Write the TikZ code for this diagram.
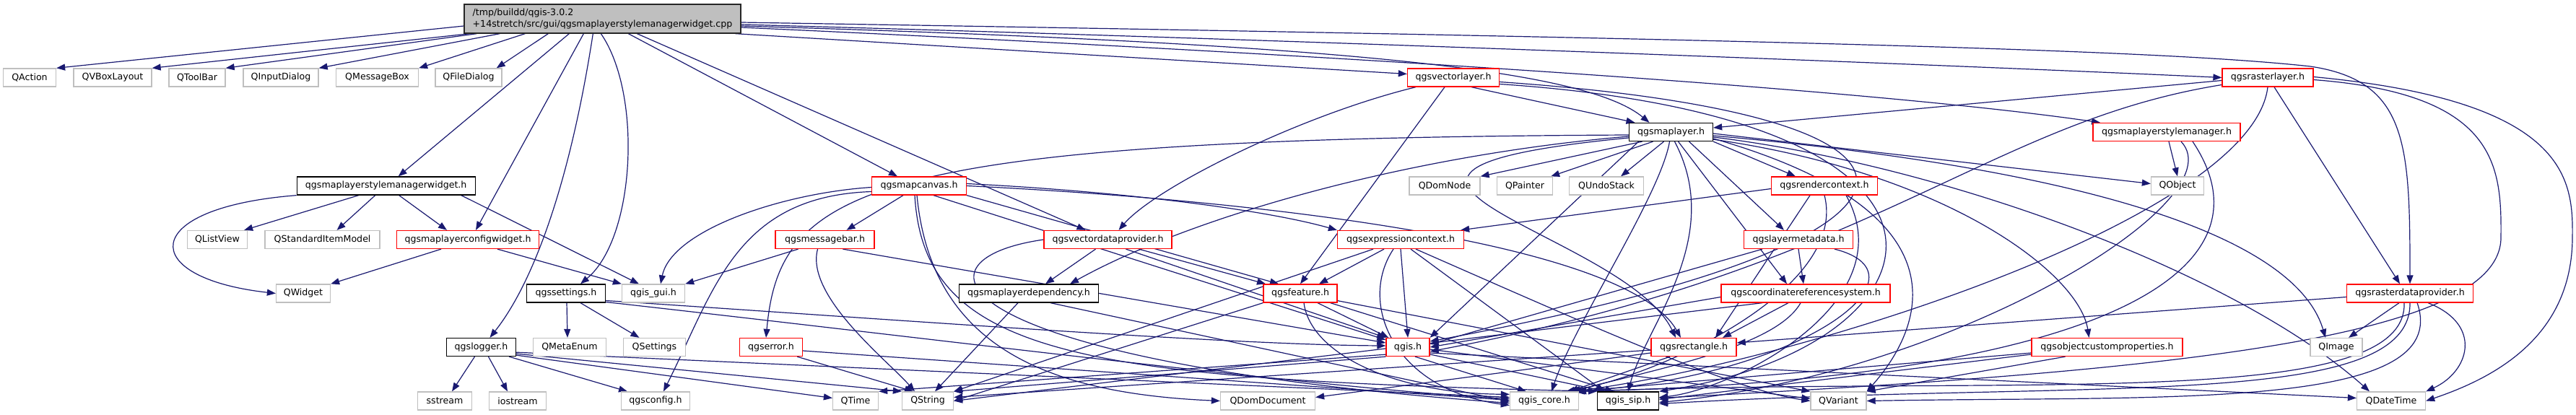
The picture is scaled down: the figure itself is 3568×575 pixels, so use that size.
\documentclass[tikz,border=0pt]{standalone}
\usepackage{fontspec}
\setmainfont{DejaVu Sans}
\usetikzlibrary{arrows.meta}
\definecolor{edgec}{HTML}{191970}
\definecolor{redb}{HTML}{FF0000}
\definecolor{greyb}{HTML}{BFBFBF}
\definecolor{rootf}{HTML}{BFBFBF}
\pgfdeclarelayer{edgelayer}
\pgfsetlayers{edgelayer,main}
\tikzset{
 box/.style={rectangle, draw, fill=white, line width=1.3pt, minimum height=25pt, inner sep=0pt, font=\fontsize{12.6}{16}\selectfont},
 gbox/.style={box, draw=greyb},
 rbox/.style={box, draw=redb},
 kbox/.style={box, draw=black},
 rootbox/.style={box, draw=black!85, fill=rootf, minimum height=40pt, align=left},
 e/.style={draw=edgec, line width=1.2pt, -{Triangle[length=12pt,width=9pt]}},
}
\begin{document}
\begin{tikzpicture}[x=1pt,y=1pt]
\useasboundingbox (0,0) rectangle (3568,-575);
% row 0
\node[rootbox, minimum width=383pt] (root) at (834.5,-26) {/tmp/buildd/qgis-3.0.2\\+14stretch/src/gui/qgsmaplayerstylemanagerwidget.cpp};
% row 1
\node[gbox, minimum width=73pt] (qaction) at (41,-107.5) {QAction};
\node[gbox, minimum width=108pt] (qvbox) at (156,-107.5) {QVBoxLayout};
\node[gbox, minimum width=78pt] (qtoolbar) at (273,-107.5) {QToolBar};
\node[gbox, minimum width=104pt] (qinput) at (389,-107.5) {QInputDialog};
\node[gbox, minimum width=114pt] (qmsgbox) at (522.5,-107.5) {QMessageBox};
\node[gbox, minimum width=92pt] (qfile) at (649,-107.5) {QFileDialog};
\node[rbox, minimum width=127pt] (vlayer) at (2013,-107.5) {qgsvectorlayer.h};
\node[rbox, minimum width=126pt] (rlayer) at (3141,-107.5) {qgsrasterlayer.h};
% row 2
\node[kbox, minimum width=116pt] (maplayer) at (2314.5,-183) {qgsmaplayer.h};
\node[rbox, minimum width=204pt] (stylemgr) at (3001,-183) {qgsmaplayerstylemanager.h};
% row 3
\node[kbox, minimum width=247pt] (smw) at (534.7,-257.5) {qgsmaplayerstylemanagerwidget.h};
\node[rbox, minimum width=131pt] (canvas) at (1273,-257.5) {qgsmapcanvas.h};
\node[gbox, minimum width=98pt] (qdomnode) at (2001,-257.5) {QDomNode};
\node[gbox, minimum width=77pt] (qpainter) at (2112,-257.5) {QPainter};
\node[gbox, minimum width=103pt] (qundo) at (2225,-257.5) {QUndoStack};
\node[rbox, minimum width=147pt] (rctx) at (2527,-257.5) {qgsrendercontext.h};
\node[gbox, minimum width=73pt] (qobject) at (3016,-257.5) {QObject};
% row 4
\node[gbox, minimum width=83pt] (qlistview) at (301,-332) {QListView};
\node[gbox, minimum width=159pt] (qsim) at (446.6,-332) {QStandardItemModel};
\node[rbox, minimum width=197pt] (mlcw) at (648,-332) {qgsmaplayerconfigwidget.h};
\node[rbox, minimum width=137pt] (msgbar) at (1142.5,-332) {qgsmessagebar.h};
\node[rbox, minimum width=177pt] (vdp) at (1534.5,-332) {qgsvectordataprovider.h};
\node[rbox, minimum width=175pt] (ectx) at (1940,-332) {qgsexpressioncontext.h};
\node[rbox, minimum width=151pt] (lmeta) at (2491,-332) {qgslayermetadata.h};
% row 5
\node[gbox, minimum width=75pt] (qwidget) at (420,-406.5) {QWidget};
\node[kbox, minimum width=109pt] (settings) at (784,-406.5) {qgssettings.h};
\node[gbox, minimum width=87pt] (qgisgui) at (905,-406.5) {qgis\_gui.h};
\node[kbox, minimum width=193pt] (mldep) at (1425,-406.5) {qgsmaplayerdependency.h};
\node[rbox, minimum width=102pt] (feature) at (1801,-406.5) {qgsfeature.h};
\node[rbox, minimum width=234pt] (crs) at (2501,-406.5) {qgscoordinatereferencesystem.h};
\node[rbox, minimum width=175pt] (rdp) at (3338,-406.5) {qgsrasterdataprovider.h};
% row 6
\node[kbox, minimum width=96pt] (logger) at (666.5,-481) {qgslogger.h};
\node[gbox, minimum width=101pt] (qmetaenum) at (789,-481) {QMetaEnum};
\node[gbox, minimum width=86pt] (qsettings) at (906.5,-481) {QSettings};
\node[rbox, minimum width=87pt] (error) at (1068,-481) {qgserror.h};
\node[rbox, minimum width=60pt] (qgis) at (1950,-481) {qgis.h};
\node[rbox, minimum width=118pt] (rect) at (2346,-481) {qgsrectangle.h};
\node[rbox, minimum width=209pt] (ocp) at (2918.5,-481) {qgsobjectcustomproperties.h};
\node[gbox, minimum width=72pt] (qimage) at (3236,-481) {QImage};
% row 7
\node[gbox, minimum width=75pt] (sstream) at (616,-555.5) {sstream};
\node[gbox, minimum width=79pt] (iostream) at (717,-555.5) {iostream};
\node[gbox, minimum width=95pt] (qgsconfig) at (908,-555.5) {qgsconfig.h};
\node[gbox, minimum width=63pt] (qtime) at (1185,-555.5) {QTime};
\node[gbox, minimum width=71pt] (qstring) at (1285,-555.5) {QString};
\node[gbox, minimum width=131pt] (qdomdoc) at (1756,-555.5) {QDomDocument};
\node[gbox, minimum width=95pt] (qgiscore) at (2139,-555.5) {qgis\_core.h};
\node[kbox, minimum width=85pt] (qgissip) at (2255,-555.5) {qgis\_sip.h};
\node[gbox, minimum width=77pt] (qvariant) at (2546.5,-555.5) {QVariant};
\node[gbox, minimum width=95pt] (qdatetime) at (3312,-555.5) {QDateTime};

\begin{pgfonlayer}{edgelayer}
% root
\draw[e] ([yshift=-10pt]root.west) -- (qaction.north east);
\draw[e] ([xshift=8pt]root.south west) -- (qvbox.north east);
\draw[e] ([xshift=18pt]root.south west) -- (qtoolbar.north east);
\draw[e] ([xshift=50pt]root.south west) -- (qinput.north east);
\draw[e] ([xshift=85pt]root.south west) -- (qmsgbox.north east);
\draw[e] ([xshift=117pt]root.south west) -- ([xshift=-8pt]qfile.north east);
\draw[e] ([xshift=146pt]root.south west) -- ([xshift=17pt]smw.north);
\draw[e] ([xshift=166pt]root.south west) -- ([xshift=11pt]mlcw.north);
\draw[e] ([xshift=179pt]root.south west) .. controls (790,-250) and (740,-390) .. ([xshift=12pt]logger.north);
\draw[e] ([xshift=190pt]root.south west) .. controls (890,-130) and (880,-330) .. ([xshift=20pt]settings.north);
\draw[e] ([xshift=228pt]root.south west) -- ([xshift=-30pt]canvas.north);
\draw[e] ([xshift=240pt]root.south west) -- ([xshift=-31pt]vdp.north);
\draw[e] ([xshift=-8pt]root.south east) -- ([yshift=5pt]vlayer.west);
\draw[e] ([yshift=-10pt]root.east) .. controls (1900,-62) and (2200,-100) .. ([xshift=-30pt]maplayer.north);
\draw[e] ([yshift=-12pt]root.east) .. controls (1900,-78) and (2600,-125) .. ([xshift=-92pt]stylemgr.north);
\draw[e] ([yshift=-8pt]root.east) .. controls (1800,-55) and (2700,-90) .. (rlayer.west);
\draw[e] ([yshift=-5pt]root.east) .. controls (2500,-55) and (3000,-70) .. (3200,-92) .. controls (3335,-112) and (3338,-200) .. (rdp.north);
% stylemanagerwidget
\draw[e] (smw.south west) .. controls (190,-288) and (190,-385) .. (qwidget.west);
\draw[e] ([xshift=-38pt]smw.south) -- ([xshift=-5pt]qlistview.north east);
\draw[e] ([xshift=-15pt]smw.south) -- ([xshift=20pt]qsim.north);
\draw[e] ([xshift=18pt]smw.south) -- ([xshift=-29pt]mlcw.north);
\draw[e] ([xshift=-20pt]smw.south east) -- ([xshift=-20pt]qgisgui.north);
% configwidget
\draw[e] ([xshift=-37pt]mlcw.south) -- (qwidget.north east);
\draw[e] ([xshift=41pt]mlcw.south) -- (qgisgui.north west);
% settings
\draw[e] ([xshift=1pt]settings.south) -- ([xshift=-3pt]qmetaenum.north);
\draw[e] ([xshift=20pt]settings.south) -- ([xshift=-21pt]qsettings.north);
\draw[e] ([yshift=-10pt]settings.east) .. controls (1200,-440) and (1700,-478) .. ([yshift=2pt]qgis.west);
\draw[e] ([yshift=-12pt]settings.east) .. controls (1300,-470) and (1850,-540) .. ([yshift=3pt]qgiscore.west);
% logger
\draw[e] ([xshift=-9pt]logger.south) -- ([xshift=10pt]sstream.north);
\draw[e] ([xshift=10pt]logger.south) -- ([xshift=-14pt]iostream.north);
\draw[e] ([xshift=-10pt]logger.south east) -- ([xshift=-39pt]qgsconfig.north);
\draw[e] ([yshift=2pt]logger.south east) -- ([yshift=4pt]qtime.west);
\draw[e] ([yshift=4pt]logger.south east) -- (qstring.north west);
\draw[e] ([yshift=6pt]logger.south east) -- ([yshift=5pt]qgiscore.west);
% error
\draw[e] ([xshift=-8pt]error.south east) -- ([xshift=-20pt]qstring.north);
\draw[e] ([yshift=-5pt]error.east) -- ([yshift=1pt]qgiscore.west);
% messagebar
\draw[e] ([xshift=-37pt]msgbar.south) -- (qgisgui.north east);
\draw[e] ([xshift=-10pt]msgbar.south) .. controls (1115,-410) and (1230,-500) .. ([xshift=-18pt]qstring.north);
\draw[e] ([xshift=25pt]msgbar.south) -- ([yshift=6pt]qgis.west);
% mapcanvas
\draw[e] ([xshift=-22pt]canvas.south) -- ([xshift=30pt]msgbar.north);
\draw[e] ([yshift=-2pt]canvas.west) .. controls (1080,-268) and (930,-320) .. ([xshift=10pt]qgisgui.north);
\draw[e] ([yshift=-8pt]canvas.west) .. controls (1020,-272) and (990,-400) .. ([xshift=11pt]qgsconfig.north);
\draw[e] ([xshift=-3pt]canvas.south) .. controls (1290,-480) and (1450,-545) .. (qdomdoc.west);
\draw[e] ([xshift=-6pt]canvas.south) .. controls (1280,-495) and (1500,-525) .. (qgissip.north west);
\draw[e] ([xshift=20pt]canvas.south) -- ([yshift=-3pt]qgis.north west);
\draw[e] (canvas.south east) -- ([xshift=-30pt]feature.north);
\draw[e] ([yshift=3pt]canvas.east) .. controls (1550,-265) and (1750,-290) .. (ectx.north west);
\draw[e] (canvas.east) .. controls (1700,-275) and (2250,-330) .. ([xshift=-18pt]rect.north);
% vectordataprovider
\draw[e] ([xshift=-17pt]vdp.south) -- ([xshift=23pt]mldep.north);
\draw[e] ([xshift=43pt]vdp.south) -- ([xshift=-48pt]feature.north);
\draw[e] ([xshift=25pt]vdp.south) -- (qgis.north west);
\draw[e] (vdp.west) .. controls (1250,-360) and (1300,-500) .. ([yshift=-3pt]qgiscore.west);
% maplayerdependency
\draw[e] ([xshift=-15pt]mldep.south) -- ([xshift=10pt]qstring.north);
\draw[e] ([xshift=30pt]mldep.south) -- ([yshift=-1pt]qgiscore.west);
% expressioncontext
\draw[e] ([xshift=-23pt]ectx.south) -- ([xshift=26pt]feature.north);
\draw[e] ([xshift=-38pt]ectx.south) -- (qstring.north east);
\draw[e] (ectx.south) -- (qgis.north);
\draw[e] ([xshift=-10pt]ectx.south) .. controls (1880,-420) and (1930,-540) .. ([yshift=-6pt]qgiscore.west);
\draw[e] ([xshift=14pt]ectx.south) -- ([xshift=-33pt]qgissip.north);
\draw[e] ([xshift=21pt]ectx.south) .. controls (2200,-450) and (2400,-540) .. (qvariant.west);
% feature
\draw[e] ([xshift=24pt]feature.south) -- ([xshift=4pt]qgis.north west);
\draw[e] ([xshift=5pt]feature.south) .. controls (1815,-490) and (1930,-545) .. ([yshift=-4pt]qgiscore.north west);
\draw[e] (feature.south west) -- (qstring.east);
\draw[e] ([yshift=3pt]feature.south east) -- (qvariant.north west);
\draw[e] ([xshift=-10pt]feature.south east) -- ([xshift=-20pt]qgissip.north);
% maplayer
\draw[e] ([xshift=-40pt]maplayer.south) -- (qdomnode.north east);
\draw[e] ([xshift=-25pt]maplayer.south) -- ([xshift=-3pt]qpainter.north east);
\draw[e] ([xshift=-10pt]maplayer.south) -- ([xshift=20pt]qundo.north);
\draw[e] (maplayer.south east) -- ([xshift=-40pt]rctx.north);
\draw[e] ([yshift=-2pt]maplayer.east) -- ([yshift=3pt]qobject.west);
\draw[e] ([yshift=-5pt]maplayer.east) .. controls (2900,-235) and (3180,-330) .. ([xshift=-15pt]qimage.north);
\draw[e] ([yshift=-7pt]maplayer.east) .. controls (2700,-230) and (3100,-380) .. ([xshift=-30pt]qdatetime.north);
\draw[e] ([yshift=-9pt]maplayer.east) .. controls (2750,-300) and (2650,-470) .. (qvariant.north east);
\draw[e] ([xshift=-45pt]maplayer.south) -- (qgis.north east);
\draw[e] ([xshift=-2pt]maplayer.south) .. controls (2300,-270) and (2180,-450) .. ([xshift=10pt]qgiscore.north);
\draw[e] ([xshift=5pt]maplayer.south) .. controls (2390,-330) and (2280,-450) .. (qgissip.north);
\draw[e] ([yshift=-4pt]maplayer.west) .. controls (1200,-192) and (1080,-260) .. ([xshift=-7pt]error.north);
\draw[e] ([yshift=3pt]maplayer.south east) .. controls (2700,-240) and (2880,-380) .. ([xshift=-25pt]ocp.north);
\draw[e] ([xshift=10pt]maplayer.south) -- ([xshift=-26pt]crs.north);
\draw[e] ([yshift=-6pt]maplayer.west) .. controls (1950,-215) and (1650,-300) .. ([xshift=57pt]mldep.north);
\draw[e] ([xshift=25pt]maplayer.south) -- ([xshift=-20pt]lmeta.north);
\draw[e] ([yshift=-8pt]maplayer.west) .. controls (1750,-240) and (2250,-320) .. ([xshift=-25pt]rect.north);
% rendercontext
\draw[e] ([yshift=-4pt]rctx.west) -- ([xshift=-5pt]ectx.north east);
\draw[e] ([xshift=-20pt]rctx.south) -- ([xshift=30pt]rect.north);
\draw[e] (rctx.south) .. controls (2560,-400) and (2300,-520) .. ([xshift=30pt]qgiscore.north);
\draw[e] ([xshift=30pt]rctx.south) .. controls (2640,-420) and (2400,-540) .. ([yshift=5pt]qgissip.east);
% layermetadata
\draw[e] ([xshift=-50pt]lmeta.south) -- ([yshift=4pt]qgis.east);
\draw[e] (lmeta.south) -- ([xshift=-3pt]crs.north);
\draw[e] ([xshift=50pt]lmeta.south) .. controls (2680,-380) and (2500,-520) .. ([xshift=-4pt]qgiscore.north east);
% crs
\draw[e] ([yshift=-5pt]crs.west) -- (qgis.east);
\draw[e] ([xshift=-60pt]crs.south) -- (qstring.east);
\draw[e] ([xshift=-24pt]crs.south) -- ([xshift=40pt]rect.north);
\draw[e] ([xshift=-7pt]crs.south) .. controls (2460,-480) and (2300,-510) .. ([xshift=38pt]qgiscore.north);
% rectangle
\draw[e] ([yshift=-8pt]rect.west) -- ([yshift=5pt]qdomdoc.east);
\draw[e] ([xshift=-33pt]rect.south) -- ([xshift=35pt]qgiscore.north);
\draw[e] ([yshift=-4pt]rect.west) -- ([yshift=5pt]qstring.east);
% qgis.h
\draw[e] (qgis.south west) -- (qstring.north east);
\draw[e] ([yshift=3pt]qgis.south west) -- (qtime.north east);
\draw[e] ([xshift=10pt]qgis.south) -- ([xshift=-25pt]qgiscore.north);
\draw[e] ([yshift=-10pt]qgis.east) -- ([xshift=-30pt]qgissip.north);
\draw[e] ([yshift=-3pt]qgis.east) -- ([yshift=3pt]qvariant.west);
\draw[e] ([yshift=-8pt]qgis.east) -- ([yshift=4pt]qdatetime.west);
% objectcustomproperties
\draw[e] ([xshift=-58pt]ocp.south) -- (qvariant.north east);
\draw[e] ([yshift=-8pt]ocp.west) -- ([xshift=42pt]qgiscore.north);
\draw[e] ([yshift=-10pt]ocp.west) -- ([yshift=2pt]qgissip.east);
% stylemanager
\draw[e] ([xshift=3pt]stylemgr.south) -- (qobject.north);
\draw[e] ([xshift=20pt]stylemgr.south) .. controls (3100,-280) and (2700,-520) .. ([yshift=-2pt]qgissip.east);
\draw[e] ([xshift=36pt]stylemgr.south) .. controls (3160,-380) and (2900,-525) .. ([xshift=44pt]qgiscore.north);
% rasterlayer
\draw[e] ([yshift=-4pt]rlayer.west) -- ([yshift=6pt]maplayer.east);
\draw[e] ([xshift=9pt]rlayer.south) -- ([xshift=-14pt]rdp.north);
\draw[e] ([yshift=-10pt]rlayer.west) .. controls (2750,-170) and (2600,-370) .. ([yshift=-6pt]qgis.east);
\draw[e] (rlayer.south) .. controls (3120,-300) and (2500,-500) .. ([xshift=40pt]qgiscore.north);
\draw[e] ([yshift=-3pt]rlayer.east) .. controls (3460,-130) and (3465,-230) .. (3464,-330) .. controls (3462,-470) and (3000,-515) .. ([yshift=4pt]qgissip.east);
\draw[e] ([yshift=1pt]rlayer.east) .. controls (3560,-140) and (3564,-250) .. (3563,-330) .. controls (3562,-470) and (3450,-525) .. (qdatetime.east);
% rasterdataprovider
\draw[e] ([xshift=-15pt]rdp.south) -- ([xshift=17pt]qimage.north);
\draw[e] ([yshift=-5pt]rdp.west) -- ([yshift=6pt]rect.east);
\draw[e] ([xshift=25pt]rdp.south) .. controls (3440,-450) and (3420,-515) .. (qdatetime.north east);
\draw[e] ([xshift=-8pt]rdp.south) .. controls (3335,-570) and (2800,-520) .. ([xshift=-2pt]qgiscore.north east);
\draw[e] (rdp.south) .. controls (3340,-570) and (2900,-525) .. ([yshift=-4pt]qgissip.east);
\draw[e] ([xshift=10pt]rdp.south) .. controls (3400,-570) and (3000,-548) .. (qvariant.east);
% vectorlayer
\draw[e] ([xshift=25pt]vlayer.south) -- ([xshift=-50pt]maplayer.north);
\draw[e] ([xshift=-52pt]vlayer.south) .. controls (1800,-160) and (1600,-260) .. ([xshift=15pt]vdp.north);
\draw[e] ([xshift=-12pt]vlayer.south) -- (feature.north);
\draw[e] ([yshift=-6pt]vlayer.east) .. controls (2750,-160) and (2750,-330) .. ([yshift=8pt]qgis.east);
\draw[e] ([yshift=-9pt]vlayer.east) .. controls (2800,-165) and (2700,-480) .. (qgissip.north east);
\end{pgfonlayer}
\end{tikzpicture}
\end{document}
